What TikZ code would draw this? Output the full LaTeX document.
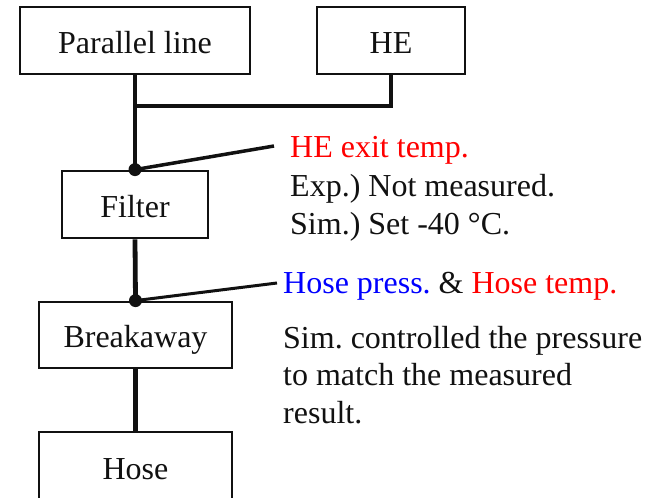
\documentclass[tikz,border=0pt]{standalone}
\usepackage{fontspec}
\setmainfont{Liberation Serif}
\definecolor{ink}{HTML}{111111}
\definecolor{myred}{HTML}{FF0000}
\definecolor{myblue}{HTML}{0000FF}
\frenchspacing
\begin{document}
\begin{tikzpicture}[x=1pt,y=-1pt,
  box/.style={draw=ink,line width=2.8pt,inner sep=0pt,font=\fontsize{32}{38}\selectfont,text=ink,text height=25pt,text depth=0pt},
  conn/.style={draw=ink,line width=4.8pt},
  lead/.style={draw=ink,line width=3.5pt},
  lbl/.style={anchor=base west,inner sep=0pt,font=\fontsize{32}{38}\selectfont,text=ink},
  dot/.style={circle,fill=ink,inner sep=0pt,minimum size=13pt}]
\useasboundingbox[fill=white] (0,0) rectangle (654,498);
\node[box,minimum width=230pt,minimum height=67pt] (par) at (135,40.5) {Parallel line};
\node[box,minimum width=148pt,minimum height=67pt] (he) at (391,40.5) {HE};
\node[box,minimum width=146pt,minimum height=67pt] (fil) at (135,204.5) {Filter};
\node[box,minimum width=193pt,minimum height=66pt] (brk) at (135.5,335) {Breakaway};
\node[box,minimum width=193pt,minimum height=70pt] (hose) at (135.5,467) {Hose};
\coordinate (j) at (135,106);
\draw[conn] (par.south) -- (fil.north);
\draw[conn,line join=miter] (he.south) |- (j);
\draw[conn] (fil.south) -- (brk.north);
\draw[conn] (brk.south) -- (hose.north);
\coordinate (l1) at (274,146);
\coordinate (l2) at (277,283);
\node[dot] (d1) at (fil.north) {};
\node[dot] (d2) at (brk.north) {};
\draw[lead] (d1.center) -- (l1);
\draw[lead,line width=3pt] (d2.center) -- (l2);
\node[lbl,text=myred] (t1) at (290,157) {HE exit temp.};
\node[lbl] (t2) at (290,196) {Exp.) Not measured.};
\node[lbl] (t3) at (290,234) {Sim.) Set -40 °C.};
\node[lbl] (t4) at (283,293) {\textcolor{myblue}{Hose press.} \& \textcolor{myred}{Hose temp.}};
\node[lbl] (t5) at (283,348) {Sim. controlled the pressure};
\node[lbl] (t6) at (283,385) {to match the measured};
\node[lbl] (t7) at (283,423) {result.};
\end{tikzpicture}
\end{document}
